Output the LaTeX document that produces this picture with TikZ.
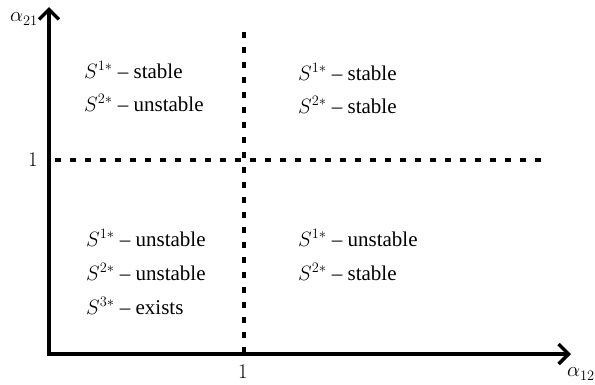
\documentclass[tikz,border=0pt]{standalone}
\usepackage{fontspec}
\setmainfont{Liberation Serif}
\usetikzlibrary{arrows.meta}
\begin{document}
\begin{tikzpicture}[x=1pt,y=-1pt,
  axis/.style={line width=3.4pt,-{Straight Barb[length=10pt,width=20pt,line width=3.4pt]}},
  dashline/.style={line width=3.4pt,dash pattern=on 6pt off 9pt},
  lbl/.style={font=\fontsize{21}{25}\selectfont,anchor=west,inner sep=0pt},
  axl/.style={font=\fontsize{22}{26}\selectfont,inner sep=0pt}]
\useasboundingbox (0,0) rectangle (595,384);
\coordinate (O) at (49,354);
\coordinate (Y) at (49,7);
\coordinate (X) at (571,354);
\coordinate (V1) at (244,32);
\coordinate (V2) at (244,354);
\coordinate (H1) at (55,160);
\coordinate (H2) at (545,160);
\draw[dashline] (V1) -- (V2);
\draw[dashline] (H1) -- (H2);
\draw[axis] (O) -- (Y);
\draw[axis] (O) -- (X);
\fill (47.3,352.3) rectangle (50.7,355.7);
\node[axl] (ya) at (24,19) {$\alpha_{21}$};
\node[axl] (xa) at (581,374) {$\alpha_{12}$};
\node[axl] (y1) at (33,160) {$1$};
\node[axl] (x1) at (243,372) {$1$};
\node[lbl] (a1) at (84,70) {$S^{1*}$ -- stable};
\node[lbl] (a2) at (84,103) {$S^{2*}$ -- unstable};
\node[lbl] (b1) at (298,72) {$S^{1*}$ -- stable};
\node[lbl] (b2) at (298,105) {$S^{2*}$ -- stable};
\node[lbl] (c1) at (86,238) {$S^{1*}$ -- unstable};
\node[lbl] (c2) at (86,272) {$S^{2*}$ -- unstable};
\node[lbl] (c3) at (86,306) {$S^{3*}$ -- exists};
\node[lbl] (d1) at (298,238) {$S^{1*}$ -- unstable};
\node[lbl] (d2) at (298,272) {$S^{2*}$ -- stable};
\end{tikzpicture}
\end{document}
